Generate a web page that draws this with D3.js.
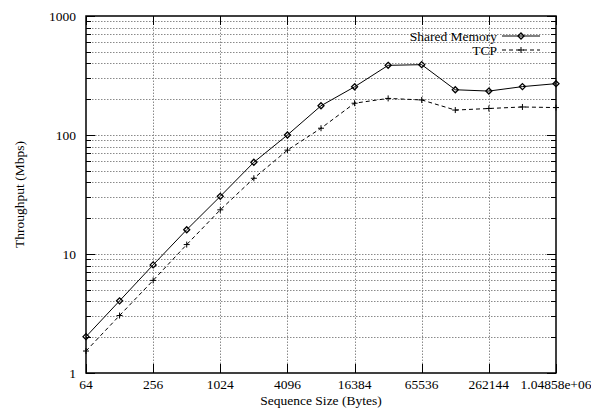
<!DOCTYPE html>
<html>
<head>
<meta charset="utf-8">
<script src="https://cdn.jsdelivr.net/npm/d3@7"></script>
<style>
  body { margin: 0; background: #fff; }
  svg, svg text { font-family: "Liberation Serif", "Times New Roman", Times, serif; }
</style>
</head>
<body>
<div id="chart"></div>
<script>
// sequence sizes in bytes
const sizes = [64, 128, 256, 512, 1024, 2048, 4096, 8192, 16384, 32768, 65536, 131072, 262144, 524288, 1048576];
// throughput in Mbps
const sharedMemory = [2.02, 4.04, 8.1, 16.0, 30.5, 59, 100, 176, 254, 385, 390, 240, 234, 255, 270];
const tcp = [1.53, 3.04, 6.0, 12.0, 23.5, 43.3, 74.6, 114, 185, 203, 197, 162, 167, 172, 170];

const xTicks = [64, 256, 1024, 4096, 16384, 65536, 262144, 1048576];
const xTickLabels = ["64", "256", "1024", "4096", "16384", "65536", "262144", "1.04858e+06"];
const yTicks = [1, 10, 100, 1000];

const width = 591, height = 410;
const margin = {left: 86, right: 35, top: 16, bottom: 37};
const fontSize = 13.5;

const x = d3.scaleLog().base(2)
  .domain([64, 1048576])
  .range([margin.left, width - margin.right]);

const y = d3.scaleLog()
  .domain([1, 1000])
  .range([height - margin.bottom, margin.top]);

const svg = d3.select("#chart").append("svg")
  .attr("width", width)
  .attr("height", height)
  .attr("font-family", "Liberation Serif, Times New Roman, serif");

// minor y values 2..9 per decade
let yMinor = [];
for (let d = 1; d <= 100; d *= 10) {
  for (let k = 2; k <= 9; k++) yMinor.push(d * k);
}

const x0 = x.range()[0], x1 = x.range()[1];
const y0 = y.range()[0], y1 = y.range()[1];

// grid
const grid = svg.append("g")
  .attr("stroke", "#8a8a8a")
  .attr("stroke-width", 1)
  .attr("stroke-dasharray", "1.5,1.5");

grid.selectAll("line.h")
  .data(yTicks.slice(1, -1).concat(yMinor))
  .join("line")
  .attr("class", "h")
  .attr("x1", x0).attr("x2", x1)
  .attr("y1", d => Math.round(y(d)) + 0.5)
  .attr("y2", d => Math.round(y(d)) + 0.5);

grid.selectAll("line.v")
  .data(xTicks.slice(1, -1))
  .join("line")
  .attr("class", "v")
  .attr("y1", y0).attr("y2", y1)
  .attr("x1", d => Math.round(x(d)) + 0.5)
  .attr("x2", d => Math.round(x(d)) + 0.5);

// ticks on all four sides
const ticks = svg.append("g").attr("stroke", "#000").attr("stroke-width", 1);
const majLen = 9, minLen = 5;

yTicks.forEach(d => {
  const yy = Math.round(y(d)) + 0.5;
  ticks.append("line").attr("x1", x0).attr("x2", x0 + majLen).attr("y1", yy).attr("y2", yy);
  ticks.append("line").attr("x1", x1).attr("x2", x1 - majLen).attr("y1", yy).attr("y2", yy);
});
yMinor.forEach(d => {
  const yy = Math.round(y(d)) + 0.5;
  ticks.append("line").attr("x1", x0).attr("x2", x0 + minLen).attr("y1", yy).attr("y2", yy);
  ticks.append("line").attr("x1", x1).attr("x2", x1 - minLen).attr("y1", yy).attr("y2", yy);
});
xTicks.forEach(d => {
  const xx = Math.round(x(d)) + 0.5;
  ticks.append("line").attr("x1", xx).attr("x2", xx).attr("y1", y0).attr("y2", y0 - majLen);
  ticks.append("line").attr("x1", xx).attr("x2", xx).attr("y1", y1).attr("y2", y1 + majLen);
});

// border
svg.append("rect")
  .attr("x", x0).attr("y", y1)
  .attr("width", x1 - x0).attr("height", y0 - y1)
  .attr("fill", "none")
  .attr("stroke", "#000")
  .attr("stroke-width", 1.5);

// tick labels
svg.append("g")
  .attr("font-size", fontSize)
  .attr("text-anchor", "end")
  .selectAll("text")
  .data(yTicks)
  .join("text")
  .attr("x", x0 - 10)
  .attr("y", d => y(d))
  .attr("dy", "0.35em")
  .text(d => d);

svg.append("g")
  .attr("font-size", fontSize)
  .attr("text-anchor", "middle")
  .selectAll("text")
  .data(xTicks)
  .join("text")
  .attr("x", d => x(d))
  .attr("y", y0 + 16)
  .text((d, i) => xTickLabels[i]);

// axis titles
svg.append("text")
  .attr("font-size", fontSize)
  .attr("text-anchor", "middle")
  .attr("x", (x0 + x1) / 2)
  .attr("y", y0 + 32)
  .text("Sequence Size (Bytes)");

svg.append("text")
  .attr("font-size", fontSize)
  .attr("text-anchor", "middle")
  .attr("transform", `translate(24,${(y0 + y1) / 2}) rotate(-90)`)
  .text("Throughput (Mbps)");

// series
const line = d3.line()
  .x(d => x(d[0]))
  .y(d => y(d[1]));

const smData = sizes.map((s, i) => [s, sharedMemory[i]]);
const tcpData = sizes.map((s, i) => [s, tcp[i]]);

svg.append("path")
  .datum(smData)
  .attr("fill", "none")
  .attr("stroke", "#000")
  .attr("stroke-width", 1)
  .attr("d", line);

svg.append("path")
  .datum(tcpData)
  .attr("fill", "none")
  .attr("stroke", "#000")
  .attr("stroke-width", 1)
  .attr("stroke-dasharray", "4,3")
  .attr("d", line);

const diamond = (g, cx, cy) => g.append("path")
  .attr("d", `M${cx},${cy - 3}L${cx + 3},${cy}L${cx},${cy + 3}L${cx - 3},${cy}Z`)
  .attr("fill", "none")
  .attr("stroke", "#000")
  .attr("stroke-width", 1.3);

const plus = (g, cx, cy) => g.append("path")
  .attr("d", `M${cx - 3},${cy}H${cx + 3}M${cx},${cy - 3}V${cy + 3}`)
  .attr("stroke", "#000")
  .attr("stroke-width", 1);

const marks = svg.append("g");
smData.forEach(d => diamond(marks, x(d[0]), y(d[1])));
tcpData.forEach(d => plus(marks, x(d[0]), y(d[1])));

// legend
const legend = svg.append("g").attr("font-size", fontSize);
const lx = 497, ly1 = 36, ly2 = 50;
legend.append("text").attr("x", lx).attr("y", ly1).attr("dy", "0.35em")
  .attr("text-anchor", "end").text("Shared Memory");
legend.append("text").attr("x", lx).attr("y", ly2).attr("dy", "0.35em")
  .attr("text-anchor", "end").text("TCP");
legend.append("line").attr("x1", lx + 5).attr("x2", lx + 43)
  .attr("y1", ly1).attr("y2", ly1).attr("stroke", "#000");
legend.append("line").attr("x1", lx + 5).attr("x2", lx + 43)
  .attr("y1", ly2).attr("y2", ly2).attr("stroke", "#000").attr("stroke-dasharray", "4,3");
diamond(legend, lx + 24, ly1);
plus(legend, lx + 24, ly2);
</script>
</body>
</html>
